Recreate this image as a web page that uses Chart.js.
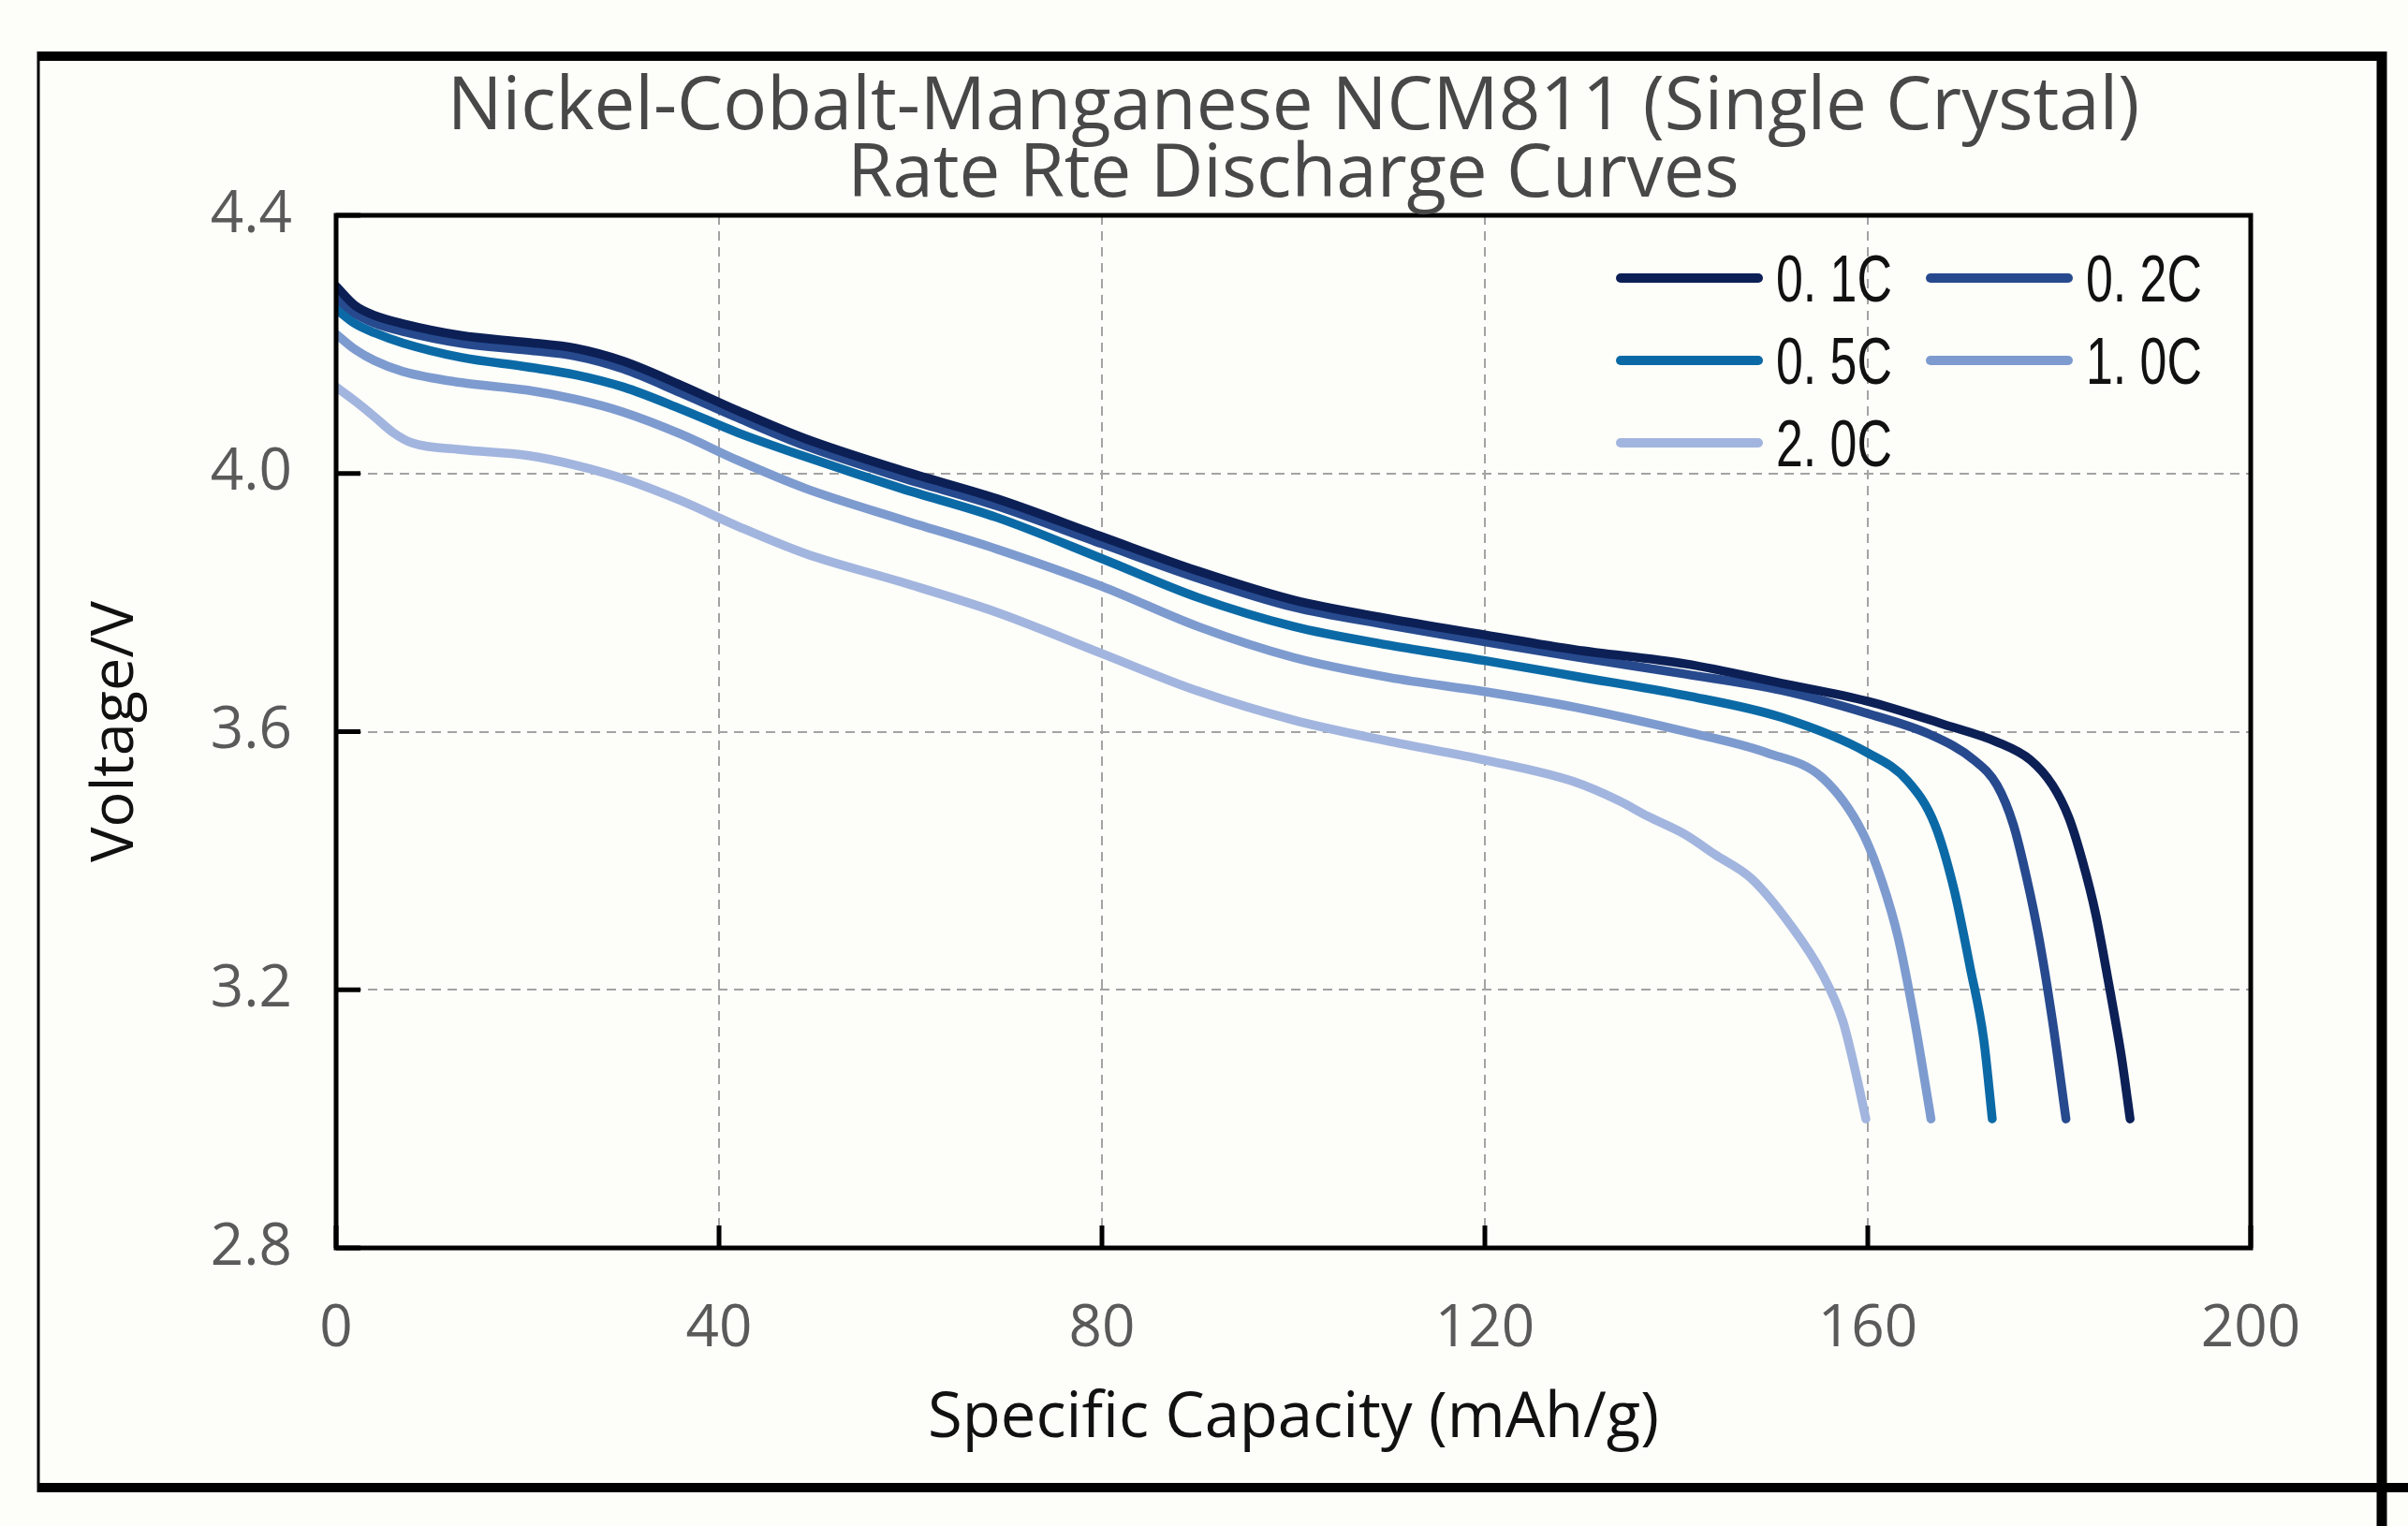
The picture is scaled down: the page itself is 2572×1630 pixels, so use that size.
<!DOCTYPE html>
<html>
<head>
<meta charset="utf-8">
<script src="https://cdn.jsdelivr.net/npm/chart.js@4.4.1/dist/chart.umd.min.js"></script>
<style>
  html, body { margin: 0; padding: 0; background: #fdfdfa; }
  #wrap { width: 2572px; height: 1630px; position: relative; }
</style>
</head>
<body>
<div id="wrap"><canvas id="chart" width="2572" height="1630"></canvas></div>
<script>
// series data (capacity mAh/g, voltage V)
const cap01 = [0, 2, 4, 7, 13, 20, 25, 30, 36, 42, 49, 59, 69, 80, 90, 100, 110, 120, 129.4, 141, 151, 160, 168, 173.5, 177, 179.3, 181, 182.4, 183.8, 185.2, 186.5, 187.4];
const volt01 = [4.290, 4.260, 4.245, 4.232, 4.214, 4.203, 4.194, 4.174, 4.137, 4.097, 4.054, 4.005, 3.961, 3.902, 3.849, 3.804, 3.775, 3.750, 3.727, 3.705, 3.675, 3.647, 3.611, 3.584, 3.556, 3.517, 3.467, 3.401, 3.318, 3.207, 3.096, 3.000];

const cap02 = [0, 2, 4, 7, 13, 20, 25, 30, 36, 42, 49, 59, 69, 80, 90, 100, 110, 120, 129.4, 141, 151, 160, 166.6, 171.1, 173.5, 175.2, 176.6, 177.9, 179.3, 180.7];
const volt02 = [4.272, 4.248, 4.233, 4.220, 4.202, 4.191, 4.182, 4.162, 4.125, 4.086, 4.043, 3.994, 3.950, 3.891, 3.838, 3.793, 3.765, 3.739, 3.716, 3.689, 3.664, 3.628, 3.595, 3.556, 3.517, 3.456, 3.373, 3.279, 3.151, 3.000];

const cap05 = [0, 2, 4, 7, 13, 20, 25, 30, 36, 42, 49, 59, 69, 80, 90, 100, 110, 120, 129.4, 141, 151, 160, 164.2, 167, 169, 170.7, 172.1, 173];
const volt05 = [4.255, 4.232, 4.218, 4.202, 4.180, 4.165, 4.153, 4.134, 4.100, 4.063, 4.026, 3.977, 3.932, 3.868, 3.808, 3.763, 3.734, 3.710, 3.686, 3.656, 3.622, 3.567, 3.523, 3.456, 3.356, 3.234, 3.124, 3.000];

const cap10 = [0, 2, 4, 7, 13, 20, 25, 30, 36, 42, 49, 59, 69, 80, 90, 100, 110, 120, 129.4, 141, 149.5, 155.3, 159.4, 161.5, 163.2, 164.9, 166.6];
const volt10 = [4.216, 4.192, 4.175, 4.158, 4.141, 4.129, 4.115, 4.095, 4.061, 4.020, 3.977, 3.929, 3.883, 3.825, 3.763, 3.715, 3.684, 3.662, 3.638, 3.600, 3.567, 3.528, 3.445, 3.367, 3.279, 3.151, 3.000];

const cap20 = [0, 2, 4, 6, 8, 13, 20, 25, 30, 36, 42, 49, 59, 69, 80, 90, 100, 110, 120, 129.4, 134, 137, 141, 144, 147.8, 151.9, 155.3, 157.4, 158.7, 159.8];
const volt20 = [4.134, 4.112, 4.088, 4.063, 4.047, 4.037, 4.028, 4.013, 3.992, 3.958, 3.918, 3.876, 3.832, 3.785, 3.721, 3.663, 3.618, 3.585, 3.556, 3.522, 3.493, 3.469, 3.440, 3.410, 3.373, 3.301, 3.223, 3.151, 3.074, 3.000];

const rateLabels = ["0. 1C", "0. 2C", "0. 5C", "1. 0C", "2. 0C"];
const titleLines = ["Nickel-Cobalt-Manganese NCM811 (Single Crystal)", "Rate Rte Discharge Curves"];
const xTitle = "Specific Capacity (mAh/g)";
const yTitle = "Voltage/V";

const lineColors = ["#0c2056", "#274a8e", "#0b6aa6", "#7d9bcf", "#a2b5de"];

function toPoints(xs, ys) {
  return xs.map((x, i) => ({ x: x, y: ys[i] }));
}

const seriesX = [cap01, cap02, cap05, cap10, cap20];
const seriesY = [volt01, volt02, volt05, volt10, volt20];

const datasets = rateLabels.map((label, i) => ({
  label: label,
  data: toPoints(seriesX[i], seriesY[i]),
  borderColor: lineColors[i],
  backgroundColor: lineColors[i],
  borderWidth: 9.5,
  borderCapStyle: "round",
  borderJoinStyle: "round",
  pointRadius: 0,
  fill: false,
  cubicInterpolationMode: "monotone",
}));

const TEXT_FONT = "'Open Sans', 'Noto Sans', sans-serif";
const LEGEND_FONT = "'Liberation Sans', Arial, sans-serif";

// frame, plot box, inward ticks, title and legend
const decorations = {
  id: "decorations",
  beforeDraw(chart) {
    const ctx = chart.ctx;
    ctx.save();
    ctx.fillStyle = "#fdfdfa";
    ctx.fillRect(0, 0, chart.width, chart.height);
    ctx.strokeStyle = "#000";
    ctx.lineCap = "butt";
    // outer frame
    ctx.lineWidth = 3;
    ctx.beginPath();
    ctx.moveTo(41, 55);
    ctx.lineTo(41, 1594);
    ctx.stroke();
    ctx.lineWidth = 10;
    ctx.beginPath();
    ctx.moveTo(40, 60);
    ctx.lineTo(2549, 60);
    ctx.stroke();
    ctx.beginPath();
    ctx.moveTo(40, 1589);
    ctx.lineTo(2572, 1589);
    ctx.stroke();
    ctx.lineWidth = 11;
    ctx.beginPath();
    ctx.moveTo(2544, 55);
    ctx.lineTo(2544, 1630);
    ctx.stroke();
    ctx.restore();
  },
  afterDatasetsDraw(chart) {
    const ctx = chart.ctx;
    const a = chart.chartArea;
    const xs = chart.scales.x;
    const ys = chart.scales.y;
    ctx.save();
    // plot box
    ctx.strokeStyle = "#000";
    ctx.lineWidth = 5;
    ctx.strokeRect(a.left, a.top, a.right - a.left, a.bottom - a.top);
    // inward ticks
    xs.ticks.forEach(t => {
      const px = xs.getPixelForValue(t.value);
      ctx.beginPath();
      ctx.moveTo(px, a.bottom);
      ctx.lineTo(px, a.bottom - 24);
      ctx.stroke();
    });
    ys.ticks.forEach(t => {
      const py = ys.getPixelForValue(t.value);
      ctx.beginPath();
      ctx.moveTo(a.left, py);
      ctx.lineTo(a.left + 26, py);
      ctx.stroke();
    });

    // title
    ctx.fillStyle = "#484848";
    ctx.font = "78px " + TEXT_FONT;
    ctx.textAlign = "center";
    ctx.textBaseline = "alphabetic";
    const cx = (a.left + a.right) / 2;
    ctx.fillText(titleLines[0], cx, 138);
    ctx.fillText(titleLines[1], cx, 210);

    // legend, two columns
    const cols = [1731, 2062];
    const rows = [297, 385, 473];
    ctx.lineCap = "round";
    chart.data.datasets.forEach((ds, i) => {
      const x0 = cols[i % 2];
      const y0 = rows[Math.floor(i / 2)];
      ctx.strokeStyle = ds.borderColor;
      ctx.lineWidth = 10;
      ctx.beginPath();
      ctx.moveTo(x0, y0);
      ctx.lineTo(x0 + 147, y0);
      ctx.stroke();
      // narrow lettering as in the original legend
      ctx.save();
      ctx.translate(x0 + 166, y0 + 25);
      ctx.scale(0.74, 1);
      ctx.font = "70px " + LEGEND_FONT;
      ctx.textAlign = "left";
      ctx.fillStyle = "#111";
      ctx.fillText(ds.label, 0, 0);
      ctx.restore();
    });
    ctx.restore();
  }
};

new Chart(document.getElementById("chart"), {
  type: "line",
  data: { datasets: datasets },
  options: {
    responsive: false,
    animation: false,
    devicePixelRatio: 1,
    layout: { padding: { top: 230, right: 168, bottom: 0, left: 0 } },
    plugins: {
      legend: { display: false },
      title: { display: false },
      tooltip: { enabled: false },
    },
    scales: {
      x: {
        type: "linear",
        min: 0,
        max: 200,
        ticks: {
          stepSize: 40,
          padding: 50,
          color: "#5a5a5a",
          font: { family: TEXT_FONT, size: 62 },
        },
        grid: { color: "#a3a3a3", lineWidth: 2, drawTicks: false },
        border: { display: false, dash: [10, 7] },
        title: {
          display: true,
          text: xTitle,
          color: "#111",
          font: { family: TEXT_FONT, size: 67 },
          padding: { top: 0, bottom: 74 },
        },
        afterFit(scale) { scale.height = 297; },
      },
      y: {
        type: "linear",
        min: 2.8,
        max: 4.4,
        ticks: {
          stepSize: 0.4,
          padding: 47,
          color: "#5a5a5a",
          font: { family: TEXT_FONT, size: 62 },
          callback: v => v.toFixed(1),
        },
        grid: { color: "#a3a3a3", lineWidth: 2, drawTicks: false },
        border: { display: false, dash: [10, 7] },
        title: {
          display: true,
          text: yTitle,
          color: "#111",
          font: { family: TEXT_FONT, size: 63 },
          padding: { top: 86, bottom: 0 },
        },
        afterFit(scale) { scale.width = 359; },
      },
    },
  },
  plugins: [decorations],
});
</script>
</body>
</html>
